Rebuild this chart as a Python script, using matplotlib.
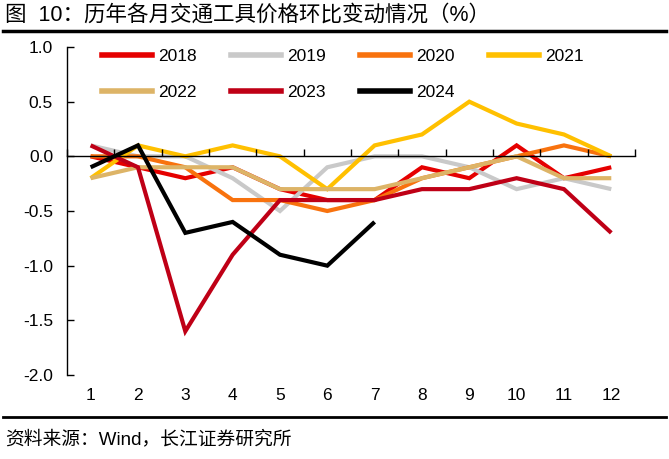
import numpy as np
import matplotlib
matplotlib.use('Agg')
from matplotlib import pyplot as plt
from matplotlib.lines import Line2D

plt.rcParams['font.family'] = ['Liberation Sans', 'Noto Sans CJK SC', 'DejaVu Sans']

months = list(range(1, 13))
y2018 = [0.0, -0.1, -0.2, -0.1, -0.3, -0.4, -0.4, -0.1, -0.2, 0.1, -0.2, -0.1]
y2019 = [0.1, 0.0, 0.0, -0.2, -0.5, -0.1, 0.0, 0.0, -0.1, -0.3, -0.2, -0.3]
y2020 = [0.0, 0.0, -0.1, -0.4, -0.4, -0.5, -0.4, -0.2, -0.1, 0.0, 0.1, 0.0]
y2021 = [-0.2, 0.1, 0.0, 0.1, 0.0, -0.3, 0.1, 0.2, 0.5, 0.3, 0.2, 0.0]
y2022 = [-0.2, -0.1, -0.1, -0.1, -0.3, -0.3, -0.3, -0.2, -0.1, 0.0, -0.2, -0.2]
y2023 = [0.1, -0.1, -1.6, -0.9, -0.4, -0.4, -0.4, -0.3, -0.3, -0.2, -0.3, -0.7]
y2024 = [-0.1, 0.1, -0.7, -0.6, -0.9, -1.0, -0.6]

series = [('2018', y2018, '#E50000'),
          ('2019', y2019, '#C9C9C9'),
          ('2020', y2020, '#F8720E'),
          ('2021', y2021, '#FFC000'),
          ('2022', y2022, '#DDB467'),
          ('2023', y2023, '#BF0016'),
          ('2024', y2024, '#000000')]

fig = plt.figure(figsize=(6.69, 4.59), dpi=100)
ax = fig.add_axes([0.1001, 0.183, 0.8490, 0.7146])

for name, vals, col in series:
    ax.plot(months[:len(vals)], vals, color=col, lw=3, label=name,
            solid_joinstyle='miter', solid_capstyle='butt')

ax.set_xlim(0.5, 12.5)
ax.set_ylim(-2.0, 1.0)
ax.set_yticks(np.arange(-2.0, 1.01, 0.5))
ax.set_yticklabels(['%.1f' % v for v in np.arange(-2.0, 1.01, 0.5)])
ax.set_xticks(months)
ax.tick_params(axis='x', length=0, pad=9, labelsize=12.5)
ax.tick_params(axis='y', direction='in', length=5, width=1, pad=10, labelsize=12.5)
ax.spines['right'].set_visible(False)
ax.spines['top'].set_visible(False)
ax.spines['bottom'].set_visible(False)
ax.spines['left'].set_linewidth(1)

# category axis sits on the zero line
ax2 = ax.twiny()
ax2.set_xlim(0.5, 12.5)
ax2.spines['top'].set_visible(False)
ax2.spines['right'].set_visible(False)
ax2.spines['left'].set_visible(False)
ax2.spines['bottom'].set_position(('data', 0))
ax2.spines['bottom'].set_linewidth(1)
ax2.xaxis.set_ticks_position('bottom')
ax2.set_xticks(np.arange(0.5, 12.6, 1))
ax2.set_xticklabels([])
ax2.tick_params(axis='x', direction='in', length=5, width=1)

# legend fills column by column, so order the entries to read row by row
order = [0, 4, 1, 5, 2, 6, 3]
handles = [Line2D([], [], color=series[i][2], lw=4) for i in order]
labels = [series[i][0] for i in order]
ax.legend(handles, labels, ncol=4, loc='upper left',
          bbox_to_anchor=(0.0616, 0.995), frameon=False, fontsize=12.5,
          handlelength=2.9, handletextpad=0.35, columnspacing=1.95,
          labelspacing=1.2, borderpad=0, borderaxespad=0)

fig.text(0.008, 0.966, '图  10：历年各月交通工具价格环比变动情况（%）',
         fontsize=15.5, va='center', ha='left')
fig.add_artist(Line2D([0.005, 0.995], [0.932, 0.932], color='black', lw=2.5,
                      transform=fig.transFigure))
fig.add_artist(Line2D([0.005, 0.995], [0.091, 0.091], color='black', lw=2,
                      transform=fig.transFigure))
fig.text(0.008, 0.042, '资料来源：Wind，长江证券研究所', fontsize=13.5,
         va='center', ha='left')

fig.savefig('out.png', dpi=100)
